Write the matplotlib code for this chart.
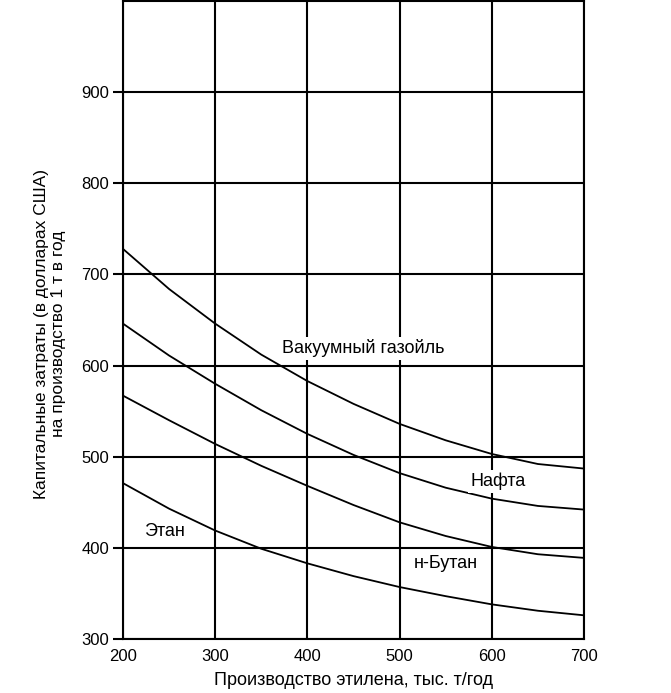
import matplotlib
matplotlib.use("Agg")
import matplotlib.pyplot as plt

plt.rcParams['font.family'] = ['Liberation Sans', 'DejaVu Sans']

# Data
production = [200, 250, 300, 350, 400, 450, 500, 550, 600, 650, 700]
vacuum_gasoil = [728, 684, 646, 612, 583, 558, 536, 518, 503, 492, 487]
naphtha = [646, 611, 580, 551, 525, 502, 482, 466, 454, 446, 442]
n_butane = [567, 540, 514, 490, 468, 447, 428, 413, 401, 393, 389]
ethane = [471, 443, 419, 399, 383, 369, 357, 347, 338, 331, 326]

x_ticks = [200, 300, 400, 500, 600, 700]
y_ticks = [300, 400, 500, 600, 700, 800, 900]

W, H = 671, 693
fig = plt.figure(figsize=(W / 100, H / 100), dpi=100)
ax = fig.add_axes([123 / W, (H - 639) / H, 461 / W, 638 / H])

ax.set_xlim(200, 700)
ax.set_ylim(300, 1000)
ax.set_xticks(x_ticks)
ax.set_yticks(y_ticks)
ax.grid(True, color='black', linewidth=1.5)
ax.set_axisbelow(True)
for s in ax.spines.values():
    s.set_linewidth(1.5)

ax.tick_params(axis='y', direction='out', length=7, width=1.5, labelsize=12, pad=3)
ax.tick_params(axis='x', length=0, labelsize=12, pad=7)

for series in (vacuum_gasoil, naphtha, n_butane, ethane):
    ax.plot(production, series, color='black', linewidth=1.3)

box = dict(facecolor='white', edgecolor='none', pad=2)
ax.text(461, 619, 'Вакуумный газойль', fontsize=13, ha='center', va='center', bbox=box)
ax.text(607, 473, 'Нафта', fontsize=13, ha='center', va='center', bbox=box)
ax.text(550, 383, 'н-Бутан', fontsize=13, ha='center', va='center', bbox=box)
ax.text(245, 418, 'Этан', fontsize=13, ha='center', va='center')

ax.set_xlabel('Производство этилена, тыс. т/год', fontsize=13, labelpad=6)
ax.set_ylabel('Капитальные затраты (в долларах США)\nна производство 1 т в год', fontsize=12.5, labelpad=11)
ax.yaxis.label.set_y(0.478)

fig.savefig('out.png', dpi=100)
